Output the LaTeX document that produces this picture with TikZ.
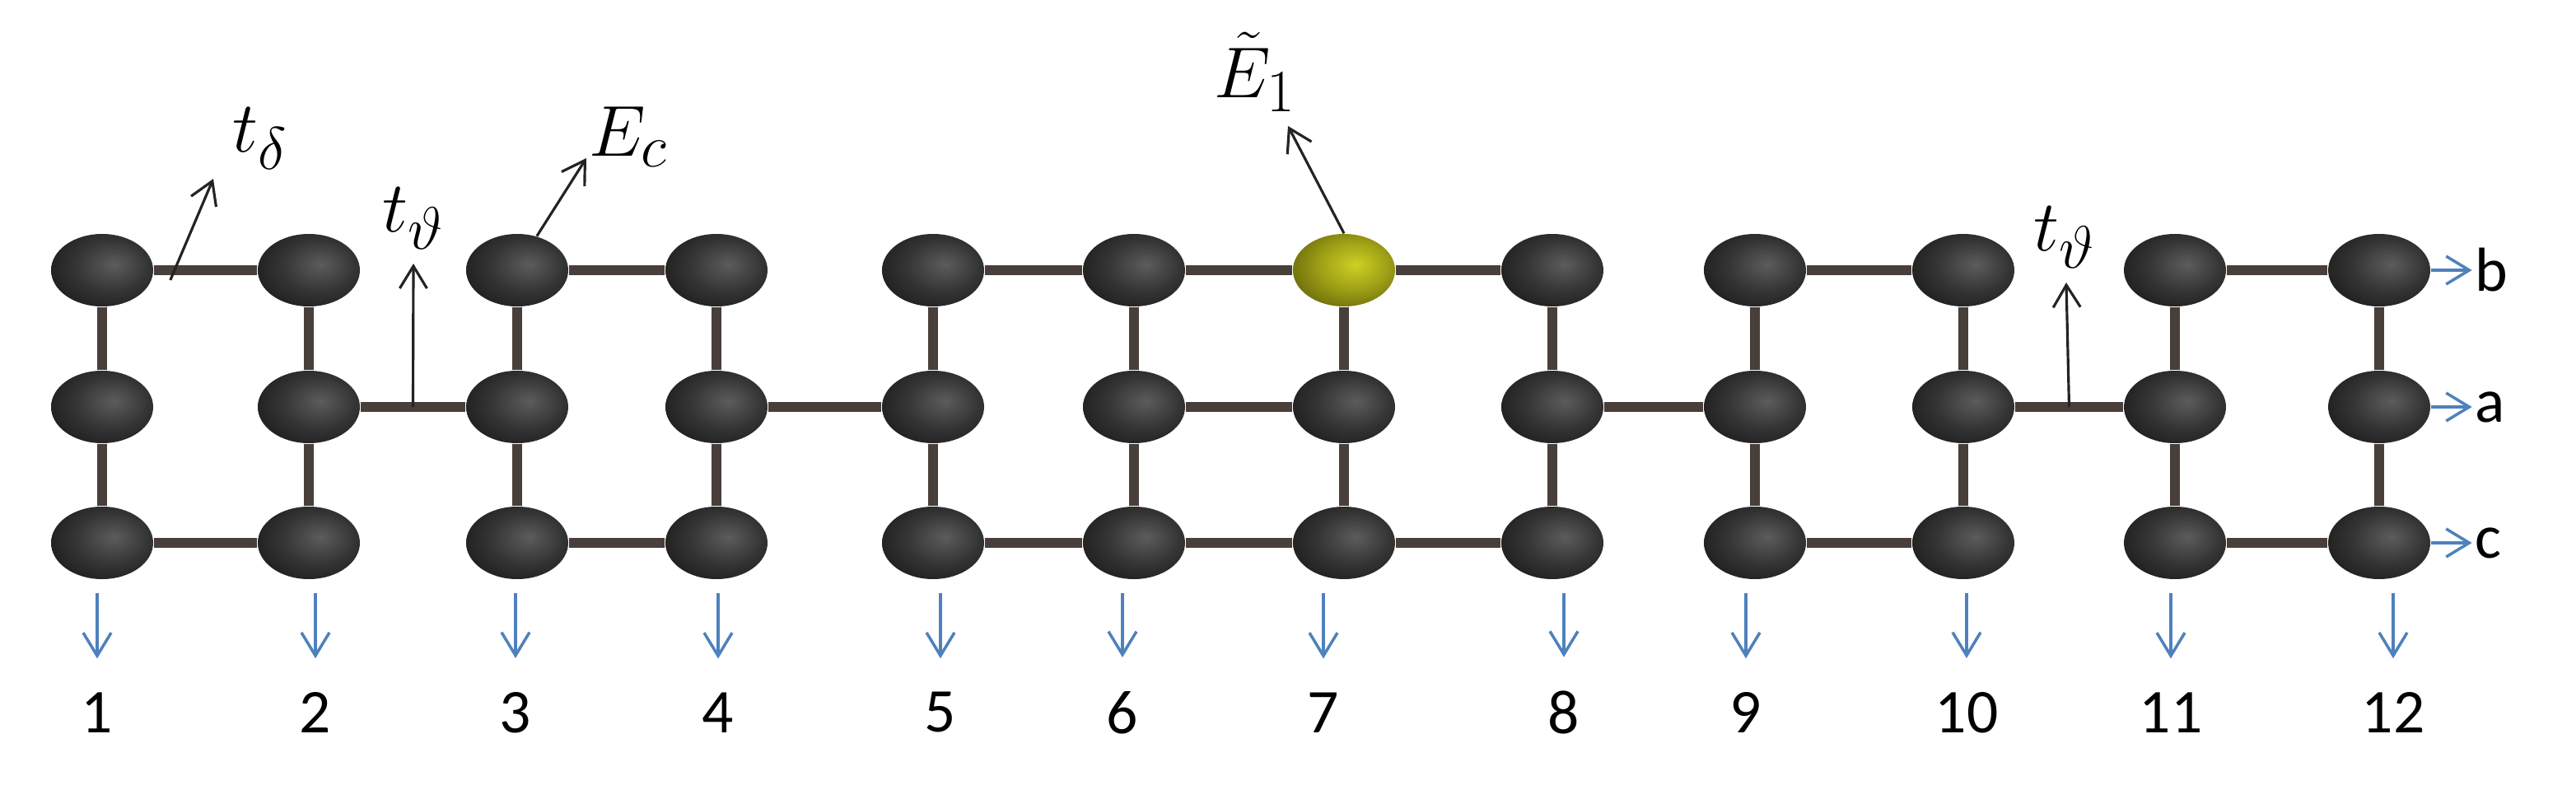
\documentclass[tikz,border=0pt]{standalone}
\usepackage{fontspec}
\newfontfamily\labelfont{Carlito}
\usetikzlibrary{shapes.geometric,arrows.meta,calc,positioning}

\definecolor{bondcol}{RGB}{72,62,58}
\definecolor{tipblue}{RGB}{79,129,189}
\definecolor{pointcol}{RGB}{35,35,35}
\definecolor{ballhi}{RGB}{92,92,92}
\definecolor{ballmid}{RGB}{52,52,52}
\definecolor{balllo}{RGB}{24,24,24}
\definecolor{balledge}{RGB}{4,4,4}
\definecolor{yelhi}{RGB}{206,208,36}
\definecolor{yelmid}{RGB}{160,162,22}
\definecolor{yello}{RGB}{92,92,8}
\definecolor{yeledge}{RGB}{14,14,0}
\pgfdeclareradialshading{blackball}{\pgfpoint{6bp}{4bp}}{color(0bp)=(ballhi); color(18bp)=(ballmid); color(36bp)=(balllo); color(50bp)=(balledge); color(80bp)=(balledge)}
\pgfdeclareradialshading{yellowball}{\pgfpoint{6bp}{4bp}}{color(0bp)=(yelhi); color(16bp)=(yelmid); color(36bp)=(yello); color(50bp)=(yeledge); color(80bp)=(yeledge)}

\begin{document}
\begin{tikzpicture}[
        site/.style={ellipse,minimum width=1.24cm,minimum height=0.88cm,inner sep=0pt,shading=blackball},
        hot/.style={site,shading=yellowball},
        bond/.style={draw=bondcol,line width=3.2pt},
        pointer/.style={pointcol,line width=0.9pt,-{Straight Barb[length=0.27cm,width=0.33cm]}},
        colarrow/.style={tipblue,line width=1pt,-{Straight Barb[length=0.28cm,width=0.34cm]}},
        lbl/.style={inner sep=0pt,font=\fontsize{24.88}{30}\selectfont},
        num/.style={inner sep=1pt,font=\labelfont\fontsize{21.5}{26}\selectfont}]
    \useasboundingbox (0,0) rectangle (31.28,9.75);

    \foreach \x/\kind [count=\i] in {1.24/site,3.75/site,6.28/site,8.70/site,11.33/site,13.77/site,
                                     16.32/hot,18.85/site,21.31/site,23.84/site,26.41/site,28.89/site} {
        \node [\kind] (b\i) at (\x,6.47) {};
        \node [site] (a\i) at (\x,4.81) {};
        \node [site] (c\i) at (\x,3.16) {};
    }

    \foreach \i in {1,...,12}
        \draw [bond] (b\i) -- (a\i) (a\i) -- (c\i);
    \foreach \i/\j in {1/2,3/4,5/6,6/7,7/8,9/10,11/12}
        \draw [bond] (b\i) -- (b\j) (c\i) -- (c\j);
    \foreach \i/\j in {2/3,4/5,6/7,8/9,10/11}
        \draw [bond] (a\i) -- (a\j);

    \foreach \x [count=\i] in {1.18,3.83,6.26,8.72,11.42,13.63,16.07,18.99,21.20,23.88,26.36,29.06} {
        \coordinate (s\i) at (\x,2.55);
        \node [num] (n\i) at (\x,1.10) {\i};
        \draw [colarrow,shorten >=0.37cm] (s\i) -- (n\i);
    }

    \foreach \r in {b,a,c} {
        \node [num,right=0.5cm of \r12] (l\r) {\r};
        \draw [colarrow] (\r12) -- (l\r);
    }

    \coordinate (dfoot) at ($(b1)!0.33!(b2)+(0,-0.12)$);
    \coordinate (dtip) at (2.59,7.58);
    \node [lbl] (tdelta) at (3.16,8.07) {$t_\delta$};
    \draw [pointer] (dfoot) -- (dtip);

    \coordinate (lfoot) at ($(a2)!0.5!(a3)$);
    \coordinate (ltip) at (5.02,6.55);
    \node [lbl] (tleft) at (5.02,7.10) {$t_\vartheta$};
    \draw [pointer] (lfoot) -- (ltip);

    \coordinate (ectip) at (7.12,7.83);
    \node [lbl] (ec) at (7.63,8.09) {$E_c$};
    \draw [pointer] (b3.60) -- (ectip);

    \coordinate (eonetip) at (15.64,8.22);
    \node [lbl] (eone) at (15.24,8.88) {$\tilde{E}_1$};
    \draw [pointer] (b7.north) -- (eonetip);

    \coordinate (rfoot) at ($(a10)!0.5!(a11)$);
    \coordinate (rtip) at (25.09,6.32);
    \node [lbl] (tright) at (25.07,6.87) {$t_\vartheta$};
    \draw [pointer] (rfoot) -- (rtip);
\end{tikzpicture}
\end{document}
